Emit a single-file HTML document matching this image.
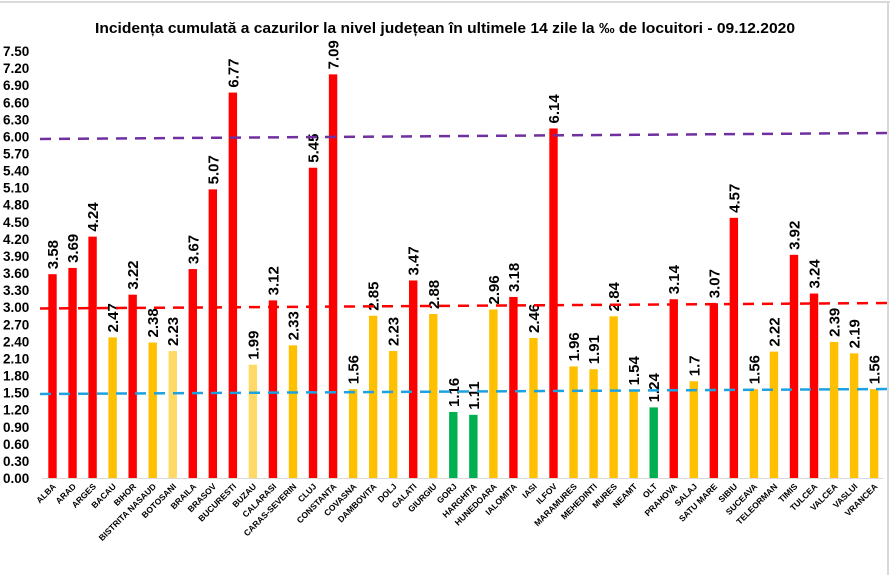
<!DOCTYPE html>
<html><head><meta charset="utf-8"><style>html,body{margin:0;padding:0;background:#fff}svg{display:block}</style></head>
<body>
<svg id="c" width="890" height="575" xmlns="http://www.w3.org/2000/svg" font-family="'Liberation Sans', sans-serif">
<rect x="0" y="0" width="890" height="575" fill="#fff"/>
<line x1="0" y1="2" x2="890" y2="2" stroke="#d9d9d9" stroke-width="2"/>
<line x1="888" y1="2" x2="888" y2="575" stroke="#d9d9d9" stroke-width="2"/>
<text x="445" y="33" text-anchor="middle" font-size="15" font-weight="bold" textLength="700" lengthAdjust="spacingAndGlyphs">Incidența cumulată a cazurilor la nivel județean în ultimele 14 zile la ‰ de locuitori - 09.12.2020</text>
<g id="g"></g>
</svg>
<script>
var d=[["ALBA",3.58,"r"],["ARAD",3.69,"r"],["ARGES",4.24,"r"],["BACAU",2.47,"o"],["BIHOR",3.22,"r"],["BISTRITA NASAUD",2.38,"o"],["BOTOSANI",2.23,"y"],["BRAILA",3.67,"r"],["BRASOV",5.07,"r"],["BUCURESTI",6.77,"r"],["BUZAU",1.99,"y"],["CALARASI",3.12,"r"],["CARAS-SEVERIN",2.33,"o"],["CLUJ",5.45,"r"],["CONSTANTA",7.09,"r"],["COVASNA",1.56,"o"],["DAMBOVITA",2.85,"o"],["DOLJ",2.23,"o"],["GALATI",3.47,"r"],["GIURGIU",2.88,"o"],["GORJ",1.16,"g"],["HARGHITA",1.11,"g"],["HUNEDOARA",2.96,"o"],["IALOMITA",3.18,"r"],["IASI",2.46,"o"],["ILFOV",6.14,"r"],["MARAMURES",1.96,"o"],["MEHEDINTI",1.91,"o"],["MURES",2.84,"o"],["NEAMT",1.54,"o"],["OLT",1.24,"g"],["PRAHOVA",3.14,"r"],["SALAJ",1.7,"o"],["SATU MARE",3.07,"r"],["SIBIU",4.57,"r"],["SUCEAVA",1.56,"o"],["TELEORMAN",2.22,"o"],["TIMIS",3.92,"r"],["TULCEA",3.24,"r"],["VALCEA",2.39,"o"],["VASLUI",2.19,"o"],["VRANCEA",1.56,"o"]];
var col={r:"#FF0000",o:"#FFC000",y:"#FFD966",g:"#00B050"};
var y0=478,k=56.93,s="";
for(var i=0;i<=25;i++){var v=i*0.3,y=y0-v*k;s+='<text x="3" y="'+(y+5)+'" font-size="13.5" font-weight="bold">'+v.toFixed(2)+'</text>';}
s+='<line x1="42" y1="478.5" x2="883" y2="478.5" stroke="#d9d9d9" stroke-width="1"/>';
d.forEach(function(e,i){var cx=52.5+i*20.04,t=y0-e[1]*k;
s+='<rect x="'+(cx-4.2)+'" y="'+t+'" width="8.4" height="'+(y0-t)+'" fill="'+col[e[2]]+'"/>';
s+='<text transform="translate('+(cx+5.5)+','+(t-5)+') rotate(-90)" font-size="15" font-weight="bold">'+e[1]+'</text>';
s+='<text transform="translate('+(cx+4)+',487) rotate(-45)" text-anchor="end" font-size="8.5" font-weight="bold">'+e[0]+'</text>';});
s+='<line x1="40" y1="139" x2="890" y2="133" stroke="#7030A0" stroke-width="2.5" stroke-dasharray="11,8"/>';
s+='<line x1="40" y1="308.5" x2="890" y2="303" stroke="#FF0000" stroke-width="2.5" stroke-dasharray="11,8"/>';
s+='<line x1="40" y1="394" x2="890" y2="389" stroke="#1CA2E0" stroke-width="2.5" stroke-dasharray="11,8"/>';
document.getElementById("g").innerHTML=s;
</script>
</body></html>
